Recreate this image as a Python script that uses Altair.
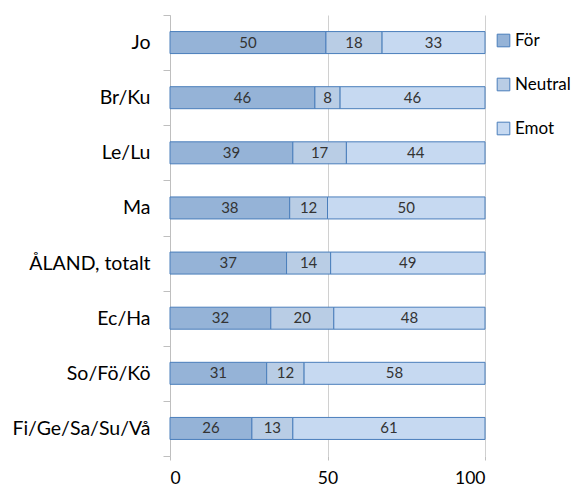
import altair as alt
import pandas as pd

categories = ["Jo", "Br/Ku", "Le/Lu", "Ma", "ÅLAND, totalt", "Ec/Ha", "So/Fö/Kö", "Fi/Ge/Sa/Su/Vå"]
series = ["För", "Neutral", "Emot"]
for_vals = [50, 46, 39, 38, 37, 32, 31, 26]
neutral_vals = [18, 8, 17, 12, 14, 20, 12, 13]
emot_vals = [33, 46, 44, 50, 49, 48, 58, 61]
colors = ["#95b3d7", "#b9cde5", "#c6d9f1"]

rows = []
for i, c in enumerate(categories):
    for j, (s, vals) in enumerate(zip(series, [for_vals, neutral_vals, emot_vals])):
        rows.append({"cat": c, "serie": s, "ord": j, "value": vals[i]})
df = pd.DataFrame(rows)

FONT = "Lato"

base = alt.Chart(df).transform_stack(
    stack="value", groupby=["cat"], as_=["x0", "x1"], offset="normalize",
    sort=[alt.SortField("ord", order="ascending")]
).transform_calculate(mid="(datum.x0 + datum.x1) / 2")

y = alt.Y("cat:N", sort=categories, title=None,
          scale=alt.Scale(paddingInner=0, paddingOuter=0),
          axis=alt.Axis(tickBand="extent", domainColor="#bfbfbf", tickColor="#bfbfbf",
                        tickSize=7, labelFontSize=19.5, labelFont=FONT, labelColor="#000000",
                        labelPadding=13, grid=False))

bars = base.mark_bar(size=22, stroke="#4a7ebb", strokeWidth=1).encode(
    x=alt.X("x0:Q", title=None, scale=alt.Scale(domain=[0, 1], nice=False),
            axis=alt.Axis(values=[0, 0.5, 1], labelExpr="format(datum.value*100, 'd')",
                          domain=False, ticks=True, tickSize=4, tickColor="#bfbfbf",
                          grid=True, gridColor="#d0d0d0",
                          labelFontSize=17.5, labelFont=FONT, labelColor="#000000",
                          labelPadding=9)),
    x2="x1:Q",
    y=y,
    color=alt.Color("serie:N", sort=series,
                    scale=alt.Scale(domain=series, range=colors),
                    legend=alt.Legend(title=None, orient="none", legendX=325, legendY=17,
                                      symbolType="square", symbolSize=160,
                                      symbolStrokeColor="#4a7ebb", symbolStrokeWidth=1,
                                      labelFontSize=17, labelFont=FONT, labelColor="#000000",
                                      rowPadding=26, labelOffset=3)),
    order=alt.Order("ord:Q"),
)

text = base.mark_text(fontSize=15, font=FONT, color="#333333", baseline="middle").encode(
    x="mid:Q",
    y=alt.Y("cat:N", sort=categories),
    text="value:Q",
)

chart = alt.layer(bars, text).properties(
    width=315, height=441,
    autosize=alt.AutoSizeParams(type="none"),
    padding={"left": 162, "top": 7, "right": 89, "bottom": 31},
).configure_view(stroke=None).configure_axis(gridWidth=1)

chart.save("out.html", embed_options={"renderer": "svg", "actions": False})
